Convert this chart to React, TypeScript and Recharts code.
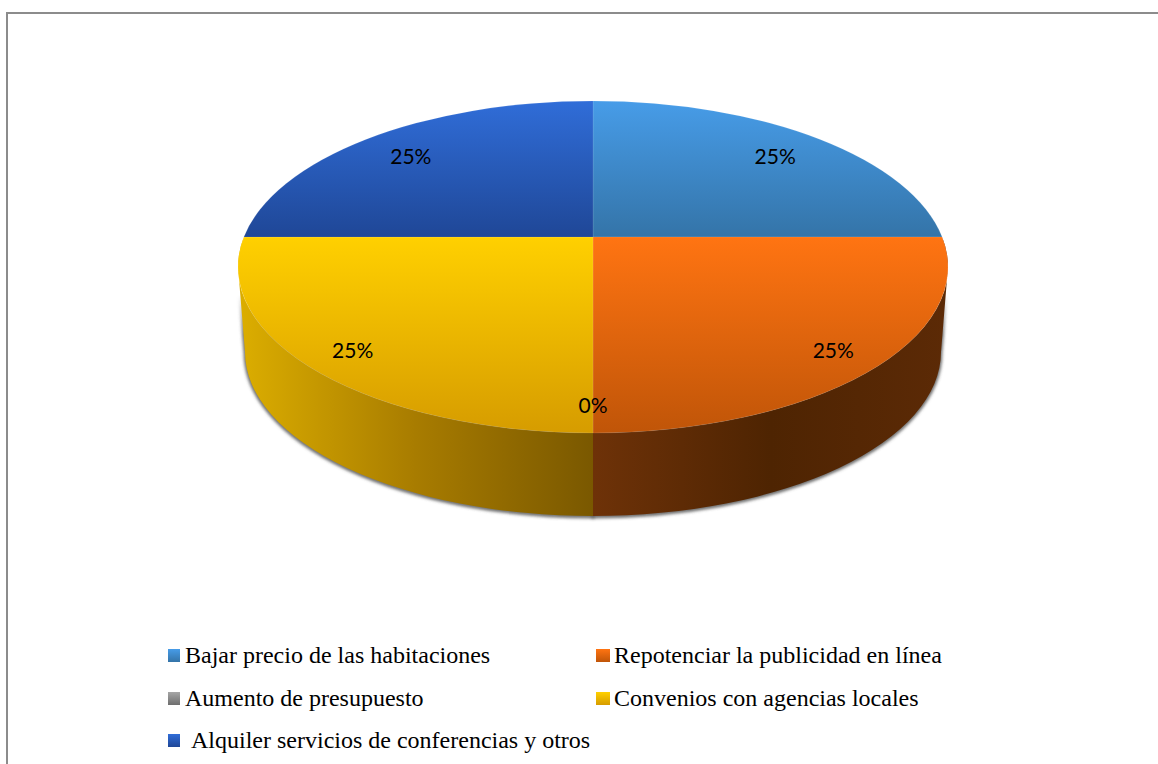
import React from 'react';
import { PieChart, Pie, Legend } from 'recharts';

const categorias = [
  'Bajar precio de las habitaciones',
  'Repotenciar la publicidad en línea',
  'Aumento de presupuesto',
  'Convenios con agencias locales',
  '\u00a0Alquiler servicios de conferencias y otros',
];
const valores = [25, 25, 0, 25, 25];

// Degradado vertical de la cara superior de cada porción
const coloresCara = [
  ['#479ce8', '#3474a8'],
  ['#ff7412', '#c05508'],
  ['#a6a6a6', '#6e6e6e'],
  ['#ffd000', '#d69c00'],
  ['#306dd8', '#1f4797'],
];
// Degradado horizontal del canto lateral
const coloresCanto = [
  ['#2a5c86', '#24506f', '#1e4460'],
  ['#6e3208', '#4e2402', '#5c2a06'],
  ['#777777', '#666666', '#555555'],
  ['#dcae00', '#a87c00', '#7a5800'],
  ['#2a58b0', '#204688', '#183670'],
];

const datosCara = categorias.map((name, i) => ({ name, value: valores[i], fill: `url(#cara-${i})` }));
const datosCanto = categorias.map((name, i) => ({ name, value: valores[i], fill: `url(#canto-${i})` }));
const datosSombra = categorias.map((name, i) => ({ name, value: valores[i], fill: '#555555' }));

// Proporciones de la elipse en perspectiva, relativas al vértice de la torta
const ESCALA_Y = 166 / 355;
const DESP_CENTRO = 30;
const DESP_BASE = 115;
const ESCALA_BASE = 348 / 355;
const ESCALA_Y_BASE = 164 / 355;

const rad = (a: number) => (a * Math.PI) / 180;

// Punto donde el rayo que sale del vértice con ese ángulo toca el borde de la elipse superior
function puntoBorde(cx: number, cy: number, r: number, angulo: number) {
  const c = Math.cos(rad(angulo));
  const s = Math.sin(rad(angulo));
  const k = DESP_CENTRO / (r * ESCALA_Y);
  const b = k * s;
  const t = -b + Math.sqrt(b * b + 1 - k * k);
  return { x: cx + t * c * r, y: cy - t * s * r * ESCALA_Y, t };
}

function CaraSuperior(props: any) {
  const { cx, cy, outerRadius: r, startAngle, endAngle, fill } = props;
  if (Math.abs(startAngle - endAngle) < 0.01) return null;
  const p0 = puntoBorde(cx, cy, r, startAngle);
  const p1 = puntoBorde(cx, cy, r, endAngle);
  const ry = r * ESCALA_Y;
  const grande = Math.abs(startAngle - endAngle) > 180 ? 1 : 0;
  const d = `M${cx},${cy} L${p0.x},${p0.y} A${r},${ry} 0 ${grande} 1 ${p1.x},${p1.y} Z`;
  return <path d={d} fill={fill} stroke="#ffffff" strokeOpacity={0.12} strokeWidth={0.8} />;
}

function trazoCanto(props: any) {
  const { cx, cy, outerRadius: r, startAngle, endAngle } = props;
  // Solo se ve el canto en la mitad delantera
  const ini = Math.min(startAngle, 0);
  const fin = Math.max(endAngle, -180);
  if (ini - fin < 0.01) return null;
  const p0 = puntoBorde(cx, cy, r, ini);
  const p1 = puntoBorde(cx, cy, r, fin);
  const rb = r * ESCALA_BASE;
  const ryb = r * ESCALA_Y_BASE;
  const cyb = cy + DESP_BASE;
  const b0 = { x: cx + rb * Math.cos(rad(ini)), y: cyb - ryb * Math.sin(rad(ini)) };
  const b1 = { x: cx + rb * Math.cos(rad(fin)), y: cyb - ryb * Math.sin(rad(fin)) };
  // En los extremos la silueta baja desde el punto más ancho de la elipse
  const ladoDer = ini === 0 ? `L${cx + r},${cy + DESP_CENTRO} ` : '';
  const ladoIzq = fin === -180 ? `L${cx - r},${cy + DESP_CENTRO} ` : '';
  return (
    `M${p0.x},${p0.y} A${r},${r * ESCALA_Y} 0 0 1 ${p1.x},${p1.y} ${ladoIzq}` +
    `L${b1.x},${b1.y} A${rb},${ryb} 0 0 0 ${b0.x},${b0.y} ${ladoDer}Z`
  );
}

function CantoLateral(props: any) {
  const d = trazoCanto(props);
  return d ? <path d={d} fill={props.fill} /> : null;
}

// La sombra va en su propia capa para que no pise la unión entre porciones
function SombraCanto(props: any) {
  const d = trazoCanto(props);
  if (!d) return null;
  return (
    <g mask="url(#mascaraSombra)">
      <path d={d} fill={props.fill} fillOpacity={0.75} stroke={props.fill} strokeOpacity={0.75} strokeWidth={3} filter="url(#sombra)" />
    </g>
  );
}

const etiqueta = (props: any) => {
  const { cx, cy, outerRadius, midAngle, percent } = props;
  const p = puntoBorde(cx, cy, outerRadius, midAngle);
  // Las porciones de atrás llevan la etiqueta un poco más cerca del vértice
  const atras = Math.sin(rad(midAngle)) > 0;
  const f = atras ? 0.84 : 0.855;
  const x = cx + (p.x - cx) * f;
  const y = cy + (p.y - cy) * f + (atras ? 4 : 0);
  return (
    <text
      x={x}
      y={y}
      textAnchor="middle"
      dominantBaseline="central"
      fontFamily="Lato, sans-serif"
      fontSize={21}
      fill="#000000"
    >
      {`${Math.round(percent * 100)}%`}
    </text>
  );
};

const LeyendaFilas = () => (
  <div style={{ position: 'relative', width: 1158, height: 130, fontFamily: '"Liberation Serif", serif', fontSize: 24, color: '#000' }}>
    {categorias.map((nombre, i) => {
      const col = i % 2;
      const fila = Math.floor(i / 2);
      return (
        <div key={nombre} style={{ position: 'absolute', left: col ? 596 : 168, top: fila * 42.5, height: 30, display: 'flex', alignItems: 'center', whiteSpace: 'nowrap' }}>
          <span
            style={{
              width: col ? 14 : 12,
              height: 13,
              marginRight: col ? 4 : 5,
              background: `linear-gradient(${coloresCara[i][0]}, ${coloresCara[i][1]})`,
            }}
          />
          {nombre}
        </div>
      );
    })}
  </div>
);

export default function App() {
  return (
    <div style={{ position: 'absolute', left: 0, top: 0, width: 1158, height: 764, overflow: 'hidden', background: '#fff' }}>
      {/* Marco del gráfico, se corta en los bordes derecho e inferior */}
      <div style={{ position: 'absolute', left: 6, top: 12, width: 1300, height: 900, border: '2px solid #8c8c8c' }} />
      <div style={{ position: 'absolute', left: 0, top: 0 }}>
        <PieChart width={1158} height={764} margin={{ top: 0, right: 0, bottom: 0, left: 0 }}>
          <defs>
            {coloresCara.map((c, i) => (
              <linearGradient key={i} id={`cara-${i}`} x1="0" y1="0" x2="0" y2="1">
                <stop offset="0%" stopColor={c[0]} />
                <stop offset="100%" stopColor={c[1]} />
              </linearGradient>
            ))}
            {coloresCanto.map((c, i) => (
              <linearGradient key={i} id={`canto-${i}`} x1="0" y1="0" x2="1" y2="0">
                <stop offset="0%" stopColor={c[0]} />
                <stop offset="50%" stopColor={c[1]} />
                <stop offset="100%" stopColor={c[2]} />
              </linearGradient>
            ))}
            <filter id="sombra" x="-5%" y="-5%" width="110%" height="115%">
              <feOffset dx={0} dy={1} />
              <feGaussianBlur stdDeviation={1.6} />
            </filter>
            {/* La sombra se desvanece hacia arriba en los laterales */}
            <linearGradient id="fundidoSombra" gradientUnits="userSpaceOnUse" x1="0" y1="295" x2="0" y2="335">
              <stop offset="0%" stopColor="#000000" />
              <stop offset="100%" stopColor="#ffffff" />
            </linearGradient>
            <mask id="mascaraSombra" maskUnits="userSpaceOnUse" x={200} y={280} width={780} height={270}>
              <rect x={200} y={280} width={780} height={270} fill="url(#fundidoSombra)" />
            </mask>
          </defs>
          <Pie
            data={datosSombra}
            dataKey="value"
            nameKey="name"
            cx={593}
            cy={237}
            outerRadius={355}
            startAngle={90}
            endAngle={-270}
            legendType="none"
            shape={SombraCanto}
            isAnimationActive={false}
          />
          <Pie
            data={datosCanto}
            dataKey="value"
            nameKey="name"
            cx={593}
            cy={237}
            outerRadius={355}
            startAngle={90}
            endAngle={-270}
            legendType="none"
            shape={CantoLateral}
            isAnimationActive={false}
          />
          <Pie
            data={datosCara}
            dataKey="value"
            nameKey="name"
            cx={593}
            cy={237}
            outerRadius={355}
            startAngle={90}
            endAngle={-270}
            shape={CaraSuperior}
            label={etiqueta}
            labelLine={false}
            isAnimationActive={false}
          />
          <Legend
            content={<LeyendaFilas />}
            layout="horizontal"
            verticalAlign="bottom"
            wrapperStyle={{ position: 'absolute', left: 0, top: 640.5, width: 1158, height: 123 }}
          />
        </PieChart>
      </div>
    </div>
  );
}
